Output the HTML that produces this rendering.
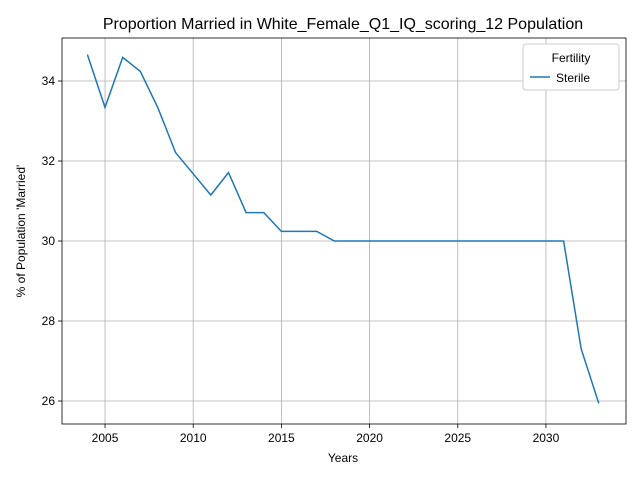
<!DOCTYPE html>
<html><head><meta charset="utf-8"><style>
body{margin:0;background:#fff;font-family:"Liberation Sans",sans-serif;}
svg text{font-family:"Liberation Sans",sans-serif;fill:#000;}
</style></head><body>
<svg id="chart" width="640" height="480">
<rect width="640" height="480" fill="#fff"/>
<text x="343" y="29" font-size="16" text-anchor="middle">Proportion Married in White_Female_Q1_IQ_scoring_12 Population</text>
<g id="grid"></g><g id="ticks"></g>
<path id="line" fill="none" stroke="#1f77b4" stroke-width="1.5"/>
<rect x="62" y="38" width="564" height="386" fill="none" stroke="#000" stroke-width="0.8"/>
<text x="343" y="462" font-size="12" text-anchor="middle">Years</text>
<text transform="translate(25,231) rotate(-90)" font-size="12" text-anchor="middle">% of Population 'Married'</text>
<g>
<rect x="523" y="44" width="96" height="46" rx="3" fill="#fff" stroke="#ccc"/>
<text x="571" y="62" font-size="12" text-anchor="middle">Fertility</text>
<line x1="530" y1="77" x2="550" y2="77" stroke="#1f77b4" stroke-width="1.5"/>
<text x="556" y="82" font-size="12">Sterile</text>
</g>
</svg>
<script>
const years=[2004,2005,2006,2007,2008,2009,2010,2011,2012,2013,2014,2015,2016,2017,2018,2019,2020,2021,2022,2023,2024,2025,2026,2027,2028,2029,2030,2031,2032,2033];
const sterile=[34.66,33.34,34.59,34.24,33.33,32.21,31.68,31.15,31.71,30.71,30.71,30.24,30.24,30.24,30.0,30.0,30.0,30.0,30.0,30.0,30.0,30.0,30.0,30.0,30.0,30.0,30.0,30.0,27.3,25.94];
const xTicks=[2005,2010,2015,2020,2025,2030];
const yTicks=[26,28,30,32,34];
const L=62,R=626,T=38,B=424,x0=2002.56,x1=2034.54,y0=25.425,y1=35.075;
const sx=v=>L+(v-x0)/(x1-x0)*(R-L), sy=v=>B-(v-y0)/(y1-y0)*(B-T);
const NS="http://www.w3.org/2000/svg";
const grid=document.getElementById('grid'),tk=document.getElementById('ticks');
function mk(tag,attrs,parent){const e=document.createElementNS(NS,tag);for(const k in attrs)e.setAttribute(k,attrs[k]);parent.appendChild(e);return e;}
xTicks.forEach(t=>{const x=sx(t);
const g=mk('line',{x1:x,x2:x,y1:T,y2:B,stroke:'#b0b0b0','stroke-width':0.8},grid);


const m=mk('line',{x1:x,x2:x,y1:B,y2:B+4,stroke:'#000','stroke-width':0.8},tk);


const l=mk('text',{x:x,y:B+18,'font-size':12,'text-anchor':'middle'},tk);l.textContent=t;

});
yTicks.forEach(t=>{const y=sy(t);
const g=mk('line',{x1:L,x2:R,y1:y,y2:y,stroke:'#b0b0b0','stroke-width':0.8},grid);


const m=mk('line',{x1:L-4,x2:L,y1:y,y2:y,stroke:'#000','stroke-width':0.8},tk);


const l=mk('text',{x:L-7,y:y+4,'font-size':12,'text-anchor':'end'},tk);l.textContent=t;

});
document.getElementById('line').setAttribute('d',years.map((v,i)=>(i?'L':'M')+sx(v).toFixed(1)+','+sy(sterile[i]).toFixed(1)).join(''));
</script>
</body></html>
